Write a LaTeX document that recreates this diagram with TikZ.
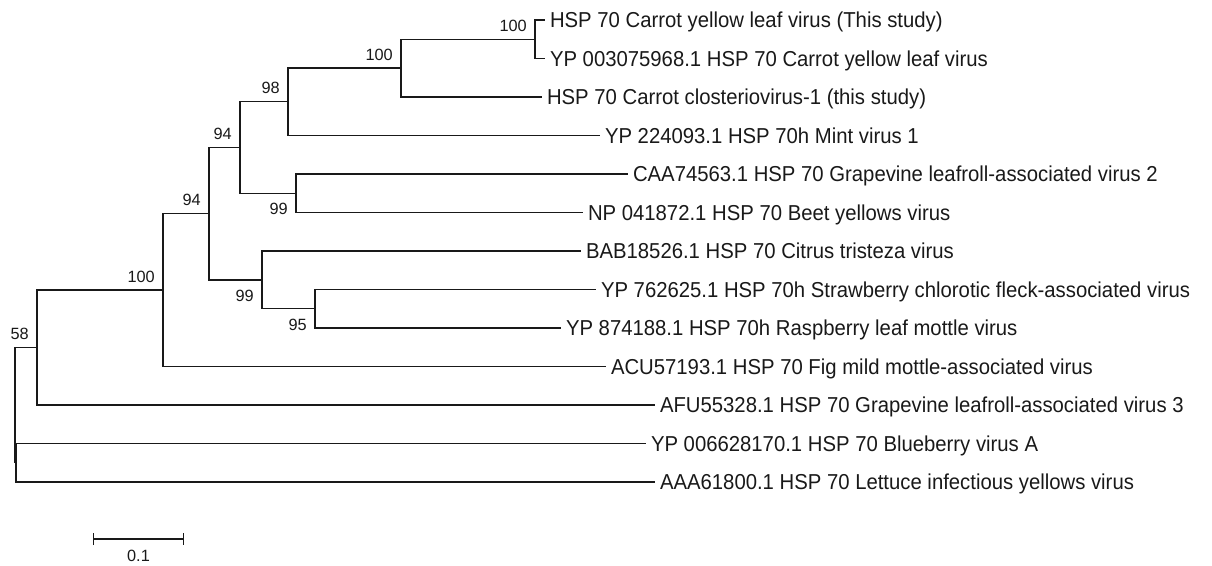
\documentclass[tikz,border=0pt]{standalone}
\usepackage{fontspec}
\setmainfont{Liberation Sans}
\newfontfamily\treefont[FakeStretch=0.94]{Liberation Sans}
\usetikzlibrary{arrows.meta}

\begin{document}
\begin{tikzpicture}[
  x=1pt, y=-1pt,
  branch/.style={line width=1.3pt, draw=black!90},
  leaf/.style={anchor=west, inner xsep=5pt, inner ysep=0pt, outer sep=0pt, text height=15.4pt, text depth=0pt, font=\treefont\fontsize{21.6}{23}\selectfont, text=black!90},
  bsup/.style={anchor=south east, inner sep=0pt, xshift=-8pt, yshift=7.5pt, font=\fontsize{16.3}{17}\selectfont, text=black!90},
  bsdown/.style={bsup, anchor=north east, yshift=-17.5pt},
]
\useasboundingbox (0,0) rectangle (1212,565);

% leaves
\node[leaf] (cylv) at (545,20) {HSP 70 Carrot yellow leaf virus (This study)};
\node[leaf] (cylvref) at (545,58.5) {YP 003075968.1 HSP 70 Carrot yellow leaf virus};
\node[leaf] (ccv) at (542,97) {HSP 70 Carrot closteriovirus-1 (this study)};
\node[leaf] (mint) at (600,135.5) {YP 224093.1 HSP 70h Mint virus 1};
\node[leaf] (glrav2) at (628,174) {CAA74563.1 HSP 70 Grapevine leafroll-associated virus 2};
\node[leaf] (byv) at (583,212.5) {NP 041872.1 HSP 70 Beet yellows virus};
\node[leaf] (ctv) at (581,251) {BAB18526.1 HSP 70 Citrus tristeza virus};
\node[leaf] (scfav) at (596,289.5) {YP 762625.1 HSP 70h Strawberry chlorotic fleck-associated virus};
\node[leaf] (rlmv) at (561,328) {YP 874188.1 HSP 70h Raspberry leaf mottle virus};
\node[leaf] (fmmav) at (606,366.5) {ACU57193.1 HSP 70 Fig mild mottle-associated virus};
\node[leaf] (glrav3) at (655,405) {AFU55328.1 HSP 70 Grapevine leafroll-associated virus 3};
\node[leaf] (bva) at (646,443.5) {YP 006628170.1 HSP 70 Blueberry virus A};
\node[leaf] (liyv) at (655,482) {AAA61800.1 HSP 70 Lettuce infectious yellows virus};

% internal nodes
\coordinate (nA) at (535,39.25);
\coordinate (nB) at (401,68.1);
\coordinate (nC) at (288,101.8);
\coordinate (nE) at (296,193.25);
\coordinate (nD) at (240,147.5);
\coordinate (nI) at (315,308.75);
\coordinate (nH) at (262,279.9);
\coordinate (nF) at (209,213.7);
\coordinate (nG) at (163,290.1);
\coordinate (nJ) at (37,347.5);
\coordinate (nK) at (16,462.75);
\coordinate (root) at (15,405.1);

% branches
\draw[branch] (nA) |- (cylv.west);
\draw[branch] (nA) |- (cylvref.west);
\draw[branch] (nB) |- (nA);
\draw[branch] (nB) |- (ccv.west);
\draw[branch] (nC) |- (nB);
\draw[branch] (nC) |- (mint.west);
\draw[branch] (nE) |- (glrav2.west);
\draw[branch] (nE) |- (byv.west);
\draw[branch] (nD) |- (nC);
\draw[branch] (nD) |- (nE);
\draw[branch] (nI) |- (scfav.west);
\draw[branch] (nI) |- (rlmv.west);
\draw[branch] (nH) |- (ctv.west);
\draw[branch] (nH) |- (nI);
\draw[branch] (nF) |- (nD);
\draw[branch] (nF) |- (nH);
\draw[branch] (nG) |- (nF);
\draw[branch] (nG) |- (fmmav.west);
\draw[branch] (nJ) |- (nG);
\draw[branch] (nJ) |- (glrav3.west);
\draw[branch] (nK) |- (bva.west);
\draw[branch] (nK) |- (liyv.west);
\draw[branch] (root) |- (nJ);
\draw[branch] (root) |- (nK);

% bootstrap values
\node[bsup] (bA) at (nA) {100};
\node[bsup] (bB) at (nB) {100};
\node[bsup] (bC) at (nC) {98};
\node[bsup] (bD) at (nD) {94};
\node[bsdown] (bE) at (nE) {99};
\node[bsup] (bF) at (nF) {94};
\node[bsup] (bG) at (nG) {100};
\node[bsdown] (bH) at (nH) {99};
\node[bsdown] (bI) at (nI) {95};
\node[bsup] (bJ) at (nJ) {58};

% scale bar
\coordinate (sbl) at (93,539);
\coordinate (sbr) at (184,539);
\draw[branch, line width=1.1pt, {Bar[width=12pt]}-{Bar[width=12pt]}] (sbl) -- (sbr);
\node[font=\fontsize{16.3}{17}\selectfont, text=black!90] (sbt) at (138.5,556) {0.1};
\end{tikzpicture}
\end{document}
